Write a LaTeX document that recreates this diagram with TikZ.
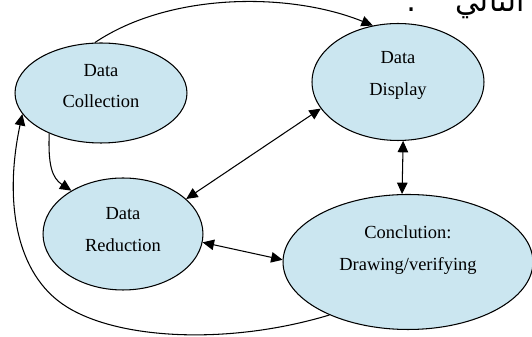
\documentclass[tikz,border=0pt]{standalone}
\usepackage{fontspec}
\setmainfont{Liberation Serif}
\newfontfamily\arabicfont[Script=Arabic]{DejaVu Sans}
\TeXXeTstate=1
\usepackage{tikz}
\usetikzlibrary{arrows.meta,shapes.geometric}
\definecolor{stagefill}{RGB}{203,230,240}

\begin{document}
\begin{tikzpicture}[x=0.02cm,y=-0.02cm,line width=0.6pt,>={Triangle[length=6.5pt,width=6pt]}]
        \tikzstyle{stage}=[ellipse,draw=black,fill=stagefill,align=center,inner sep=0pt,font=\fontsize{10.5}{18}\selectfont]
        \clip (0,0) rectangle (532,337);
        \node[anchor=base east,font=\arabicfont\fontsize{17}{19}\selectfont] (head) at (531,12) {\beginR التالي\hspace{22pt}:\endR};
        \node[stage,minimum width=3.44cm,minimum height=2cm,text depth=8pt] (dc) at (101,93) {Data\\Collection};
        \node[stage,minimum width=3.44cm,minimum height=2.34cm,text depth=10pt] (dd) at (398,82) {Data\\Display};
        \node[stage,minimum width=3.2cm,minimum height=2.24cm,text depth=5pt] (dr) at (123,234) {Data\\Reduction};
        \node[stage,minimum width=5cm,minimum height=2.7cm,text depth=16pt] (cc) at (408,262) {Conclution:\\Drawing/verifying};
        \draw[->] (dc.97) .. controls (170,-8) and (290,-8) .. (dd.114);
        \draw[->] (dc.218) .. controls (48,165) and (52,178) .. (dr.140);
        \path[<->]
        (dr.29) edge (dd.199)
        (dd.-85) edge (cc.95)
        (dr.-6) edge (cc.179);
        \draw[->] (cc.214) .. controls (230,345) and (120,340) .. (67,307) .. controls (15,275) and (4,200) .. (dc.195);
    \end{tikzpicture}
\end{document}
